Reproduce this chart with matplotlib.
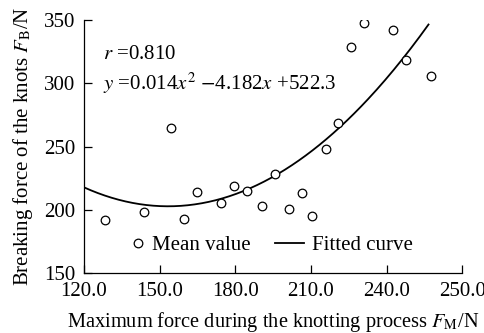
import numpy as np
import matplotlib
matplotlib.use("Agg")
import matplotlib.pyplot as plt
from matplotlib.lines import Line2D

plt.rcParams['font.family'] = ['Liberation Serif', 'DejaVu Serif']
plt.rcParams['mathtext.fontset'] = 'stix'

# Mean values
x_mean = [128.3, 143.8, 154.4, 159.8, 164.7, 174.4, 179.5, 184.8, 190.5, 195.8,
          201.2, 206.4, 210.6, 215.9, 220.6, 225.8, 231.1, 242.7, 247.6, 257.7]
y_mean = [192.1, 198.6, 265.0, 192.9, 214.4, 205.3, 219.2, 215.3, 203.1, 228.6,
          200.5, 213.2, 195.5, 248.1, 268.4, 328.4, 347.4, 342.1, 318.4, 305.8]

# Points on the drawn fitted curve
x_curve_pts = [120.0, 156.8, 180.0, 197.8, 215.6, 247.4, 256.6]
y_curve_pts = [217.1, 204.7, 212.4, 229.0, 255.3, 318.4, 349.5]

x_ticks = [120, 150, 180, 210, 240, 270]
x_ticklabels = ['120.0', '150.0', '180.0', '210.0', '240.0', '250.0']
y_ticks = [150, 200, 250, 300, 350]

FS = 15

fig = plt.figure(figsize=(4.85, 3.33), dpi=100)
ax = fig.add_axes([0.1732, 0.1793, 0.78, 0.7607])

coef = np.polyfit(x_curve_pts, y_curve_pts, 2)
xc = np.linspace(min(x_curve_pts), max(x_curve_pts), 200)
ax.plot(xc, np.polyval(coef, xc), color='black', lw=1.3)
ax.plot(x_mean, y_mean, 'o', mfc='white', mec='black', ms=6.2, mew=0.9, ls='none')

ax.set_xlim(120, 270)
ax.set_ylim(150, 350)
ax.set_xticks(x_ticks)
ax.set_xticklabels(x_ticklabels)
ax.set_yticks(y_ticks)
ax.spines['top'].set_visible(False)
ax.spines['right'].set_visible(False)
for s in ['left', 'bottom']:
    ax.spines[s].set_linewidth(0.9)
ax.tick_params(direction='in', length=6, width=0.9, labelsize=FS)
ax.tick_params(axis='x', pad=6)
ax.tick_params(axis='y', pad=6)

ax.set_xlabel(r'Maximum force during the knotting process $F_{\mathrm{M}}$/N', fontsize=14.7, labelpad=7)
ax.set_ylabel(r'Breaking force of the knots $F_{\mathrm{B}}$/N', fontsize=FS, labelpad=7)

ax.text(0.05, 0.865, r'$r$ =0.810', transform=ax.transAxes, fontsize=FS, va='center')
ax.text(0.05, 0.75, r'$y$ =0.014$x^{2}$ $-$4.182$x$ +522.3', transform=ax.transAxes, fontsize=FS, va='center')

h_mean = Line2D([], [], marker='o', mfc='white', mec='black', ms=6.2, mew=0.9, ls='none')
h_fit = Line2D([], [], color='black', lw=1.3)
leg1 = ax.legend([h_mean], ['Mean value'], loc='center left', bbox_to_anchor=(0.118, 0.11),
                 frameon=False, fontsize=FS, handlelength=0.9, handletextpad=0.2,
                 borderaxespad=0, borderpad=0)
ax.add_artist(leg1)
ax.legend([h_fit], ['Fitted curve'], loc='center left', bbox_to_anchor=(0.505, 0.11),
          frameon=False, fontsize=FS, handlelength=1.4, handletextpad=0.35,
          borderaxespad=0, borderpad=0)

fig.savefig('out.png', dpi=100)
